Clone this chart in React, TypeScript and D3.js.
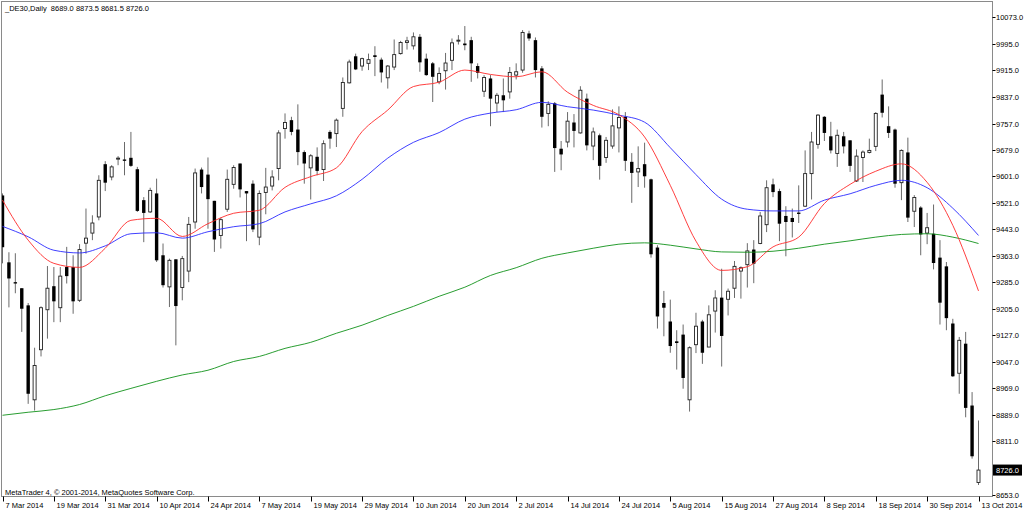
import React, { useEffect, useRef } from "react";
import * as d3 from "d3";

const symbolTitle = "_DE30,Daily\u00A0\u00A08689.0 8873.5 8681.5 8726.0";
const copyright = "MetaTrader 4, \u00A9 2001-2014, MetaQuotes Software Corp.";

const dateLabels = [
  "7 Mar 2014", "19 Mar 2014", "31 Mar 2014", "10 Apr 2014", "24 Apr 2014",
  "7 May 2014", "19 May 2014", "29 May 2014", "10 Jun 2014", "20 Jun 2014",
  "2 Jul 2014", "14 Jul 2014", "24 Jul 2014", "5 Aug 2014", "15 Aug 2014",
  "27 Aug 2014", "8 Sep 2014", "18 Sep 2014", "30 Sep 2014", "13 Oct 2014",
];
const dateLabelStep = 8;

const priceTicks = [
  10073, 9995, 9915, 9837, 9757, 9679, 9601, 9521, 9443, 9363, 9285, 9205,
  9127, 9047, 8969, 8889, 8811, 8653,
];
const lastPrice = 8726.0;

const opens = [
  9543, 9344, 9285, 9267, 9216, 8935, 9084, 9203, 9273, 9209, 9330, 9330, 9231, 9401, 9431, 9479,
  9636, 9598, 9652, 9650, 9655, 9621, 9529, 9494, 9549, 9365, 9271, 9353, 9269, 9318, 9464, 9620,
  9605, 9527, 9424, 9502, 9576, 9638, 9556, 9578, 9419, 9552, 9571, 9623, 9742, 9767, 9739, 9672,
  9625, 9658, 9620, 9732, 9727, 9802, 9878, 9957, 9928, 9936, 9960, 9947, 9893, 9925, 9965, 9998,
  9988, 10015, 9950, 9936, 9881, 9914, 9945, 10003, 9995, 10005, 9928, 9853, 9891, 9818, 9841, 9851,
  9901, 9916, 10025, 10005, 9921, 9787, 9817, 9682, 9702, 9760, 9729, 9831, 9690, 9722, 9656, 9690,
  9744, 9777, 9643, 9613, 9636, 9591, 9388, 9223, 9168, 9109, 9129, 8935, 9099, 9168, 9092, 9199,
  9239, 9234, 9267, 9318, 9337, 9382, 9400, 9456, 9576, 9556, 9482, 9476, 9492, 9511, 9608, 9695,
  9777, 9719, 9668, 9719, 9707, 9586, 9656, 9671, 9689, 9843, 9749, 9739, 9581, 9671, 9496, 9507,
  9431, 9429, 9358, 9332, 9162, 9014, 9102, 8918, 8689,
];
const highs = [
  9549, 9374, 9371, 9267, 9223, 9090, 9213, 9333, 9330, 9330, 9390, 9365, 9398, 9504, 9484, 9603,
  9645, 9633, 9660, 9702, 9732, 9628, 9538, 9566, 9593, 9400, 9355, 9353, 9363, 9479, 9623, 9626,
  9656, 9527, 9477, 9620, 9633, 9638, 9556, 9588, 9558, 9625, 9618, 9737, 9787, 9777, 9814, 9677,
  9666, 9686, 9707, 9737, 9772, 9894, 9947, 9965, 9953, 9965, 9987, 9953, 9931, 10007, 10003, 10015,
  10028, 10023, 9965, 9940, 9924, 9967, 10010, 10020, 10047, 10015, 9936, 9901, 9901, 9848, 9891, 9925,
  9936, 10035, 10033, 10013, 9928, 9823, 9821, 9705, 9791, 9785, 9868, 9846, 9745, 9727, 9717, 9799,
  9808, 9791, 9669, 9689, 9700, 9593, 9395, 9259, 9233, 9142, 9159, 9094, 9194, 9173, 9216, 9261,
  9325, 9266, 9348, 9332, 9401, 9410, 9494, 9588, 9593, 9563, 9511, 9504, 9573, 9677, 9732, 9785,
  9779, 9762, 9739, 9732, 9707, 9680, 9677, 9712, 9791, 9888, 9808, 9742, 9680, 9715, 9544, 9511,
  9491, 9516, 9410, 9345, 9176, 9122, 9137, 8958, 8873.5,
];
const lows = [
  9341, 9210, 9252, 9137, 8923, 8903, 9064, 9117, 9166, 9166, 9281, 9191, 9226, 9370, 9410, 9469,
  9556, 9588, 9633, 9603, 9628, 9494, 9404, 9491, 9345, 9269, 9211, 9097, 9231, 9285, 9444, 9549,
  9444, 9375, 9385, 9494, 9563, 9537, 9407, 9434, 9395, 9487, 9558, 9588, 9712, 9722, 9633, 9578,
  9531, 9603, 9586, 9682, 9687, 9777, 9876, 9916, 9914, 9916, 9898, 9879, 9861, 9916, 9962, 9977,
  9977, 9911, 9899, 9821, 9874, 9858, 9916, 9992, 9975, 9881, 9891, 9836, 9749, 9791, 9791, 9831,
  9888, 9908, 10003, 9894, 9745, 9749, 9613, 9618, 9686, 9686, 9727, 9677, 9648, 9590, 9640, 9682,
  9671, 9616, 9521, 9568, 9566, 9358, 9147, 9124, 9075, 9025, 8968, 8900, 9074, 9042, 9092, 9135,
  9034, 9186, 9238, 9236, 9269, 9282, 9398, 9434, 9538, 9407, 9362, 9418, 9461, 9509, 9531, 9682,
  9705, 9668, 9628, 9668, 9613, 9583, 9583, 9668, 9675, 9775, 9714, 9566, 9529, 9464, 9449, 9365,
  9398, 9323, 9159, 9142, 9003, 8953, 8883, 8760, 8681.5,
];
const closes = [
  9389, 9296, 9281, 9206, 8953, 9037, 9209, 9267, 9228, 9303, 9303, 9228, 9382, 9416, 9461, 9588,
  9581, 9628, 9654, 9646, 9631, 9497, 9491, 9558, 9350, 9276, 9350, 9214, 9355, 9457, 9610, 9568,
  9532, 9412, 9471, 9591, 9626, 9561, 9549, 9442, 9549, 9568, 9598, 9729, 9760, 9732, 9672, 9638,
  9661, 9616, 9697, 9712, 9767, 9879, 9940, 9918, 9950, 9947, 9955, 9909, 9928, 9962, 9998, 10003,
  10015, 9939, 9901, 9896, 9906, 9937, 9997, 10005, 9990, 9936, 9908, 9894, 9831, 9841, 9826, 9909,
  9911, 10028, 10010, 9916, 9777, 9814, 9684, 9665, 9764, 9735, 9856, 9692, 9732, 9631, 9707, 9750,
  9775, 9646, 9610, 9623, 9600, 9368, 9183, 9209, 9095, 9104, 9000, 9090, 9154, 9075, 9188, 9238,
  9125, 9258, 9332, 9328, 9378, 9340, 9482, 9566, 9553, 9459, 9464, 9464, 9488, 9608, 9702, 9782,
  9729, 9677, 9722, 9689, 9631, 9660, 9672, 9677, 9787, 9789, 9729, 9578, 9677, 9477, 9537, 9427,
  9447, 9342, 9224, 9178, 9005, 9112, 8911, 8767, 8726,
];

// moving averages, one value every maStep bars
const maStep = 4;
const maRed = [
  9529, 9410, 9341, 9329, 9386, 9469, 9475, 9421, 9459, 9490, 9499, 9567, 9599, 9625, 9733, 9797,
  9867, 9880, 9916, 9903, 9896, 9911, 9850, 9811, 9783, 9717, 9573, 9407, 9320, 9331, 9390, 9419,
  9519, 9576, 9615, 9637, 9582, 9454, 9259,
];
const maBlue = [
  9451, 9420, 9380, 9372, 9393, 9429, 9432, 9416, 9435, 9450, 9459, 9494, 9518, 9542, 9591, 9654,
  9701, 9730, 9770, 9788, 9798, 9820, 9807, 9797, 9782, 9761, 9685, 9605, 9532, 9502, 9497, 9497,
  9529, 9548, 9573, 9588, 9566, 9505, 9424,
];
const maGreen = [
  8889, 8898, 8906, 8921, 8947, 8969, 8990, 9009, 9023, 9049, 9064, 9088, 9106, 9133, 9157, 9186,
  9213, 9243, 9270, 9305, 9328, 9356, 9372, 9386, 9398, 9402, 9395, 9384, 9375, 9374, 9377, 9386,
  9398, 9408, 9419, 9427, 9429, 9419, 9400,
];

const FONT = "'Liberation Sans', Arial, sans-serif";
const FS = 7.5;

export default function App() {
  const ref = useRef<SVGSVGElement>(null);

  useEffect(() => {
    const svg = d3.select(ref.current);
    svg.selectAll("*").remove();

    const frame = { left: 1.5, top: 1.5, right: 992.5, bottom: 496.5 };
    const n = opens.length;
    const x = d3.scaleLinear().domain([0, n - 1]).range([2.5, 978.5]);
    const y = d3.scaleLinear().domain([8653, 10073]).range([494.6, 17.3]);

    svg.append("rect").attr("width", 1024).attr("height", 512).attr("fill", "#fff");

    svg.append("defs").append("clipPath").attr("id", "plotclip")
      .append("rect")
      .attr("x", frame.left).attr("y", frame.top)
      .attr("width", frame.right - frame.left).attr("height", frame.bottom - frame.top);

    const plot = svg.append("g").attr("clip-path", "url(#plotclip)");

    // candles
    const idx = d3.range(n);
    const g = plot.append("g");
    g.selectAll("line.wick").data(idx).join("line")
      .attr("class", "wick")
      .attr("x1", (i) => x(i)).attr("x2", (i) => x(i))
      .attr("y1", (i) => y(highs[i])).attr("y2", (i) => y(lows[i]))
      .attr("stroke", "#6a6a6a").attr("stroke-width", 1);

    const up = (i: number) => closes[i] >= opens[i];
    g.selectAll("rect.body").data(idx).join("rect")
      .attr("class", "body")
      .attr("x", (i) => (up(i) ? x(i) - 1.5 : x(i) - 1.7))
      .attr("width", (i) => (up(i) ? 3 : 3.4))
      .attr("y", (i) => y(Math.max(opens[i], closes[i])))
      .attr("height", (i) => Math.max(1, Math.abs(y(opens[i]) - y(closes[i]))))
      .attr("fill", (i) => (up(i) ? "#fff" : "#000"))
      .attr("stroke", (i) => (up(i) ? "#222" : "none"))
      .attr("stroke-width", 0.9);

    // moving averages
    const line = d3.line<number>()
      .x((_, k) => x(k * maStep))
      .y((v) => y(v))
      .curve(d3.curveMonotoneX);
    const mas: [number[], string][] = [
      [maGreen, "#11921a"],
      [maBlue, "#2a2aff"],
      [maRed, "#ff2a2a"],
    ];
    mas.forEach(([vals, color]) => {
      plot.append("path").attr("d", line(vals) as string)
        .attr("fill", "none").attr("stroke", color).attr("stroke-width", 0.9);
    });

    // frame
    svg.append("rect")
      .attr("x", frame.left).attr("y", frame.top)
      .attr("width", frame.right - frame.left).attr("height", frame.bottom - frame.top)
      .attr("fill", "none").attr("stroke", "#8a8a8a").attr("stroke-width", 1);

    // title + copyright
    svg.append("text").attr("x", 5).attr("y", 11).text(symbolTitle)
      .attr("font-family", FONT).attr("font-size", FS).attr("fill", "#000");
    svg.append("text").attr("x", 5).attr("y", 495).text(copyright)
      .attr("font-family", FONT).attr("font-size", FS).attr("fill", "#000");

    // price axis
    const pa = svg.append("g");
    priceTicks.forEach((v) => {
      const yy = Math.round(y(v)) + 0.5;
      pa.append("line").attr("x1", frame.right).attr("x2", frame.right + 3)
        .attr("y1", yy).attr("y2", yy).attr("stroke", "#000").attr("stroke-width", 1);
      pa.append("text").attr("x", 996).attr("y", yy + 2.7).text(v.toFixed(1))
        .attr("font-family", FONT).attr("font-size", FS).attr("fill", "#000");
    });
    const ly = y(lastPrice);
    pa.append("rect").attr("x", 993).attr("y", ly - 5.5).attr("width", 29).attr("height", 11)
      .attr("fill", "#000");
    pa.append("text").attr("x", 996).attr("y", ly + 2.7).text(lastPrice.toFixed(1))
      .attr("font-family", FONT).attr("font-size", FS).attr("fill", "#fff");

    // time axis
    const ta = svg.append("g");
    dateLabels.forEach((lab, k) => {
      const xx = Math.round(x(k * dateLabelStep)) + 0.5;
      ta.append("line").attr("x1", xx).attr("x2", xx)
        .attr("y1", frame.bottom).attr("y2", frame.bottom + 5)
        .attr("stroke", "#000").attr("stroke-width", 1);
      ta.append("text").attr("x", xx + 2).attr("y", 508).text(lab)
        .attr("font-family", FONT).attr("font-size", FS).attr("fill", "#000");
    });
  }, []);

  return (
    <svg
      ref={ref}
      width={1024}
      height={512}
      style={{ position: "absolute", left: 0, top: 0, display: "block" }}
    />
  );
}
